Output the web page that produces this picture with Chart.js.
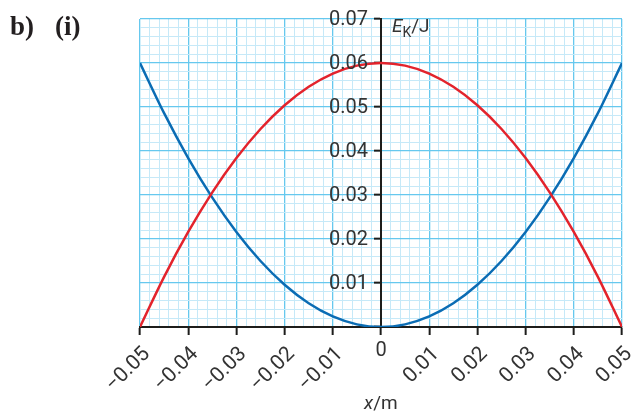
<!DOCTYPE html>
<html><head><meta charset="utf-8">
<script src="https://cdn.jsdelivr.net/npm/chart.js@4/dist/chart.umd.min.js"></script>
<style>html,body{margin:0;padding:0;background:#fff;}#wrap{width:632px;height:412px;position:relative;}</style>
</head><body><div id="wrap"><canvas id="c" width="632" height="412"></canvas></div>
<script>
// x positions (m)
const xValues = [-0.05,-0.045,-0.04,-0.035,-0.03,-0.025,-0.02,-0.015,-0.01,-0.005,0,0.005,0.01,0.015,0.02,0.025,0.03,0.035,0.04,0.045,0.05];
// kinetic energy (red curve), J
const ekValues = [0,0.0114,0.0216,0.0306,0.0384,0.045,0.0504,0.0546,0.0576,0.0594,0.06,0.0594,0.0576,0.0546,0.0504,0.045,0.0384,0.0306,0.0216,0.0114,0];
// potential energy (blue curve), J
const epValues = [0.06,0.0486,0.0384,0.0294,0.0216,0.015,0.0096,0.0054,0.0024,0.0006,0,0.0006,0.0024,0.0054,0.0096,0.015,0.0216,0.0294,0.0384,0.0486,0.06];
const xTickLabels = ['\u22120.05','\u22120.04','\u22120.03','\u22120.02','\u22120.01','0','0.01','0.02','0.03','0.04','0.05'];
const yTickLabels = ['','0.01','0.02','0.03','0.04','0.05','0.06','0.07'];

const MAJOR_GRID = '#66c8ee';
const MINOR_GRID = '#c6e9f8';
const AXIS = '#1d1d1b';
const TXT = '#333333';
const FONT = 'Roboto';

function pts(ys){ return xValues.map((x,i)=>({x:x,y:ys[i]})); }

const textPlugin = {
  id:'texts',
  afterDraw(chart){
    const c = chart.ctx, xs = chart.scales.x, ys = chart.scales.y;
    const ax = xs.getPixelForValue(0);
    c.save();
    c.fillStyle = '#231f20';
    c.textBaseline = 'alphabetic';
    c.textAlign = 'left';
    c.font = 'bold 27px "Liberation Serif"';
    c.fillText('b)', 10, 35);
    c.fillText('(i)', 55, 35);
    // y tick labels (left of the axis)
    c.fillStyle = TXT;
    c.font = '20px ' + FONT;
    c.textAlign = 'right';
    c.textBaseline = 'middle';
    ys.ticks.forEach((t,i)=>{
      if (i%5===0 && i>0) c.fillText(yTickLabels[i/5], ax - 13, ys.getPixelForValue(t.value) + 1);
    });
    // zero label (upright)
    c.textAlign = 'center';
    c.textBaseline = 'top';
    c.fillText(xTickLabels[5], ax, ys.getPixelForValue(0) + 14);
    // y axis title
    c.textBaseline = 'alphabetic';
    c.textAlign = 'left';
    let x0 = ax + 11;
    c.font = 'italic 19px ' + FONT;
    c.fillText('E', x0, 32);
    x0 += c.measureText('E').width;
    c.font = '14px ' + FONT;
    c.fillText('K', x0, 37);
    x0 += c.measureText('K').width;
    c.font = '19px ' + FONT;
    c.fillText('/J', x0, 32);
    // x axis title
    let xm = ax - 17;
    c.font = 'italic 19px ' + FONT;
    c.fillText('x', xm, 409);
    xm += c.measureText('x').width;
    c.font = '19px ' + FONT;
    c.fillText('/m', xm, 409);
    c.restore();
  }
};

new Chart(document.getElementById('c'), {
  type:'line',
  data:{
    datasets:[
      {label:'Ek', data:pts(ekValues), borderColor:'#e3232c', borderWidth:2.5, pointRadius:0, cubicInterpolationMode:'monotone', fill:false},
      {label:'Ep', data:pts(epValues), borderColor:'#0a6cb4', borderWidth:2.5, pointRadius:0, cubicInterpolationMode:'monotone', fill:false}
    ]
  },
  options:{
    responsive:false,
    animation:false,
    devicePixelRatio:1,
    layout:{padding:{left:140,right:10,top:19,bottom:85}},
    plugins:{legend:{display:false},tooltip:{enabled:false}},
    scales:{
      x:{
        type:'linear', position:{y:0}, min:-0.05, max:0.05,
        afterFit(s){ s.paddingLeft=0; s.paddingRight=0; s.paddingTop=0; s.paddingBottom=0; },
        ticks:{stepSize:0.002, autoSkip:false, maxRotation:45, minRotation:45, padding:8, labelOffset:7,
          font:{family:FONT,size:21}, color:TXT,
          callback:(v,i)=>{ if(i%5!==0) return ''; const l = xTickLabels[i/5]; return l==='0' ? '' : l; }},
        grid:{z:-1, color:(ctx)=> ctx.index%5===0 ? MAJOR_GRID : MINOR_GRID,
          lineWidth:(ctx)=> ctx.index%5===0 ? 1.3 : 1,
          tickColor:(ctx)=> ctx.index%5===0 ? AXIS : 'rgba(0,0,0,0)', tickLength:7, tickWidth:2},
        border:{color:AXIS, width:2}
      },
      y:{
        type:'linear', position:{x:0}, min:0, max:0.07,
        afterFit(s){ s.paddingLeft=0; s.paddingRight=0; s.paddingTop=0; s.paddingBottom=0; },
        ticks:{stepSize:0.002, autoSkip:false, callback:()=>''},
        grid:{z:-1, color:(ctx)=> ctx.index%5===0 ? MAJOR_GRID : MINOR_GRID,
          lineWidth:(ctx)=> ctx.index%5===0 ? 1.3 : 1,
          tickColor:(ctx)=> ctx.index%5===0 ? AXIS : 'rgba(0,0,0,0)', tickLength:6, tickWidth:2},
        border:{color:AXIS, width:2}
      }
    }
  },
  plugins:[textPlugin]
});
</script></body></html>
